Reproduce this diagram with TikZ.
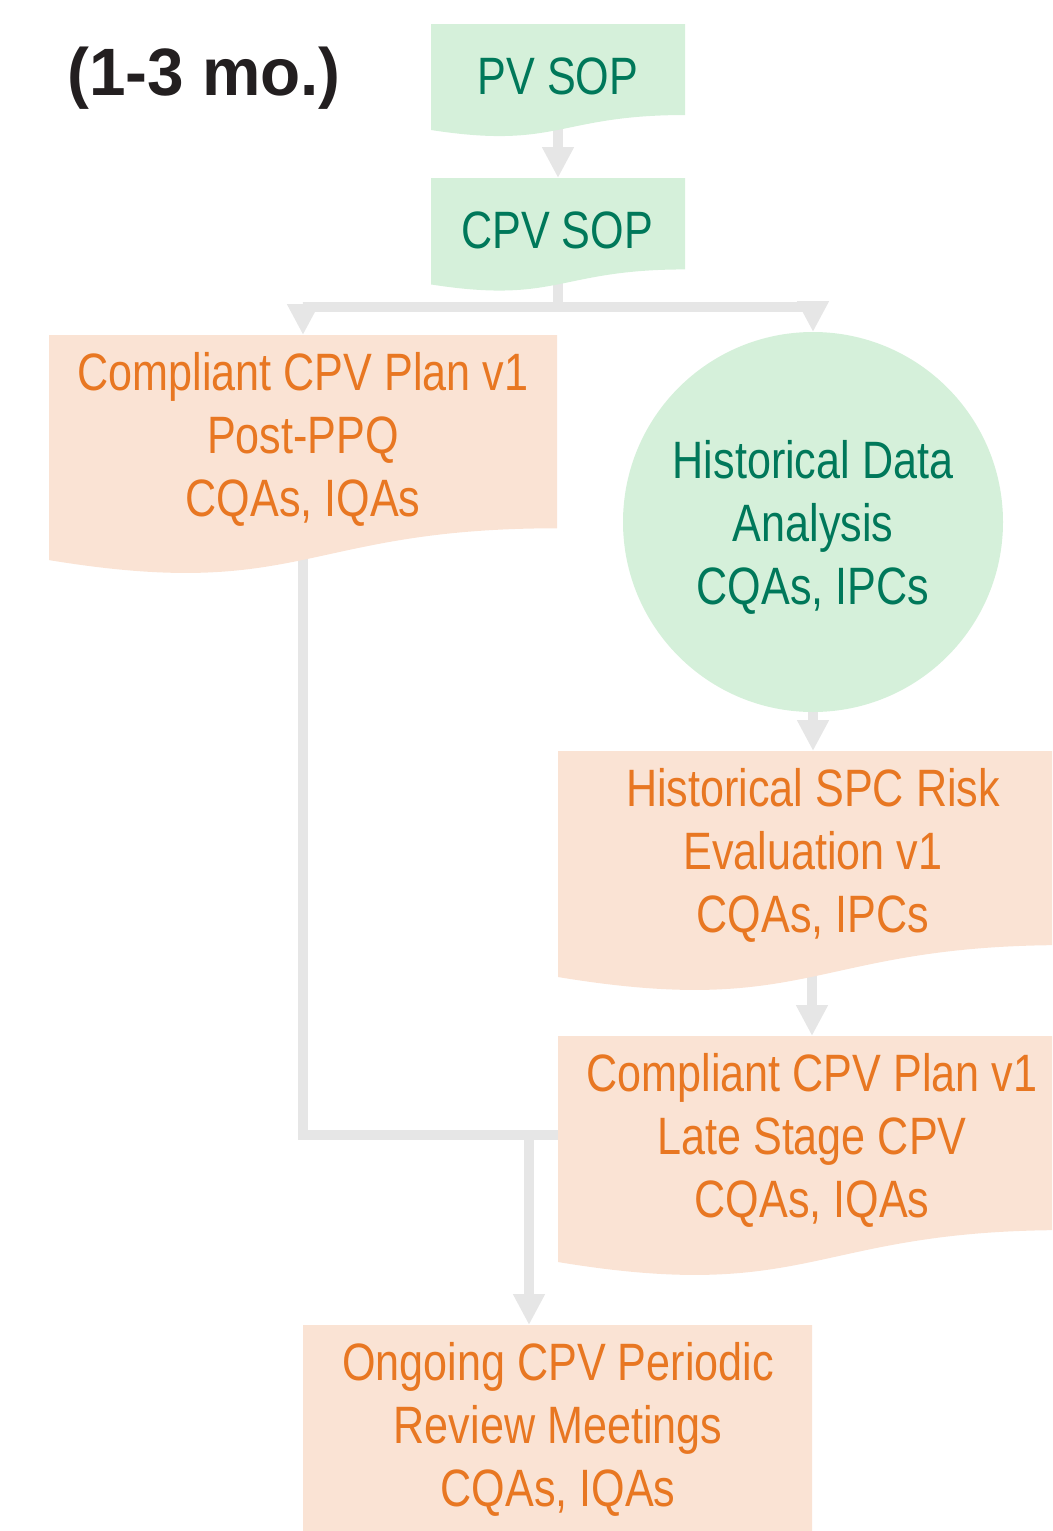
\documentclass[tikz,border=0pt]{standalone}
\usepackage{fontspec}
\newfontfamily\narrowfont{Liberation Sans}[FakeStretch=0.82]
\newfontfamily\titlefont{Liberation Sans}[FakeStretch=0.98]
\usetikzlibrary{arrows.meta,backgrounds,calc}
\definecolor{gfill}{HTML}{D5F0DA}
\definecolor{gtext}{HTML}{00785A}
\definecolor{ofill}{HTML}{FAE3D4}
\definecolor{otext}{HTML}{E87722}
\definecolor{lgrey}{HTML}{E6E6E6}
\definecolor{ttext}{HTML}{231F20}
\newcommand\docfill[2]{%
  \fill[#2] let \p1=(#1.north west), \p2=(#1.south east) in
    (\x1,\y1) -- (\x2,\y1) -- (\x2,{\y1+0.802*(\y2-\y1)})
    .. controls ({0.5*(\x1+\x2)},{\y1+0.802*(\y2-\y1)}) and ({0.5*(\x1+\x2)},{\y1+1.1075*(\y2-\y1)}) ..
    (\x1,{\y1+0.934*(\y2-\y1)}) -- cycle;}
\begin{document}
\begin{tikzpicture}[x=1pt,y=-1pt,
  doc/.style n args={2}{rectangle, inner sep=0pt, outer sep=0pt,
    minimum width=#1, minimum height=#2, anchor=north west},
  txt/.style={align=center, inner sep=0pt, outer sep=0pt,
    font=\narrowfont\fontsize{52.6}{63}\selectfont},
  gtxt/.style={txt, text=gtext},
  otxt/.style={txt, text=otext},
  grayline/.style={draw=lgrey, line width=10pt, line join=miter, line cap=butt},
  arrowend/.style={-{Triangle[width=30pt,length=31pt]}}
]
\useasboundingbox (0,0) rectangle (1052,1531);
\clip (0,0) rectangle (1052,1531);

% shapes
\node[doc={254}{113.5}] (pv) at (431,24) {};
\node[doc={254}{114}] (cpv) at (431,178) {};
\node[doc={508}{241}] (cpl) at (49,335) {};
\node[circle, fill=gfill, minimum size=380pt, inner sep=0pt, outer sep=0pt] (hda) at (813,522) {};
\node[doc={508}{242}] (spc) at (558,751) {};
\node[doc={508}{242}] (late) at (558,1036) {};
\node[doc={509}{280}] (ong) at (303,1325) {};
\docfill{pv}{gfill}
\docfill{cpv}{gfill}
\docfill{cpl}{ofill}
\docfill{spc}{ofill}
\docfill{late}{ofill}
\docfill{ong}{ofill}

% texts
\node[anchor=base, inner sep=0pt, text=ttext,
  font=\titlefont\bfseries\fontsize{67}{80}\selectfont] (title) at (204,95) {(1-3 mo.)};
\node[gtxt] (pvt) at (558,81.4) {\strut PV SOP};
\node[gtxt] (cpvt) at (557,235.4) {\strut CPV SOP};
\node[otxt] (cplt) at (303,440.4) {\strut Compliant CPV Plan v1\\\strut Post-PPQ\\\strut CQAs, IQAs};
\node[gtxt] (hdat) at (813,528.4) {\strut Historical Data\\\strut Analysis\\\strut CQAs, IPCs};
\node[otxt] (spct) at (813,856.4) {\strut Historical SPC Risk\\\strut Evaluation v1\\\strut CQAs, IPCs};
\node[otxt] (latet) at (812,1141.4) {\strut Compliant CPV Plan v1\\\strut Late Stage CPV\\\strut CQAs, IQAs};
\node[otxt] (ongt) at (558,1430.4) {\strut Ongoing CPV Periodic\\\strut Review Meetings\\\strut CQAs, IQAs};

% connectors
\begin{pgfonlayer}{background}
\coordinate (split) at (558,307);
\coordinate (merge) at (529,1135);
\draw[grayline, arrowend] (pv.center) -- (cpv.north);
\draw[grayline] (cpv.center) -- (split);
\draw[grayline, arrowend] (split) -| (cpl.north);
\draw[grayline, arrowend] (split) -| (hda.north);
\draw[grayline] (cpl.center) |- (late.west |- merge);
\draw[grayline, arrowend] (merge) -- (merge |- ong.north);
\draw[grayline, arrowend] (hda.south) -- (hda.south |- spc.north);
\draw[grayline, arrowend] (spc.center) -- (spc.center |- late.north);
\end{pgfonlayer}
\end{tikzpicture}
\end{document}
